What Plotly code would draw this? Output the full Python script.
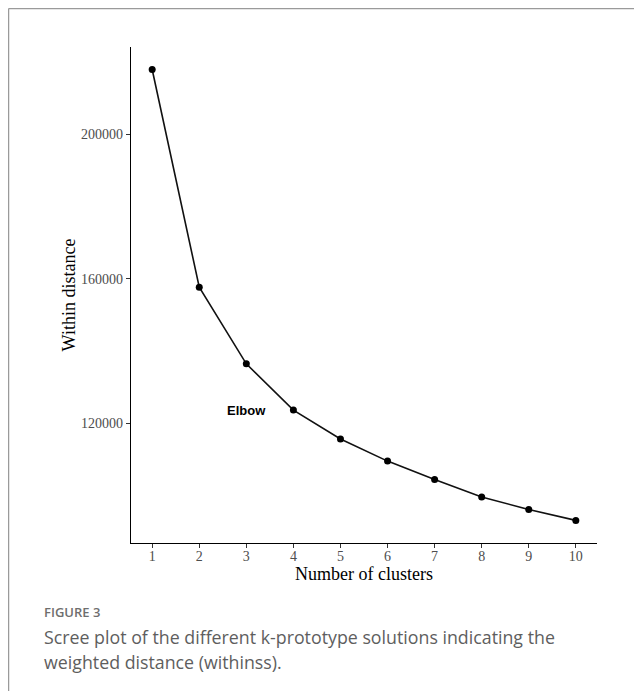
import plotly.graph_objects as go

clusters = [1, 2, 3, 4, 5, 6, 7, 8, 9, 10]
within_distance = [217900, 157700, 136500, 123700, 115700, 109600, 104500, 99700, 96200, 93200]
y_tick_vals = [120000, 160000, 200000]
y_tick_text = ["120000", "160000", "200000"]
x_tick_vals = clusters
x_tick_text = [str(c) for c in clusters]

# The page body adds an 8 px margin, so the figure is sized to fill the rest.
W, H = 634, 683
ML, MR, MT, MB = 123, 45, 39, 148
PW, PH = W - ML - MR, H - MT - MB


def xp(px):
    return (px - ML) / PW


def yp(py):
    return (H - MB - py) / PH


fig = go.Figure()
fig.add_trace(go.Scatter(
    x=clusters, y=within_distance, mode="lines+markers",
    line=dict(color="#111111", width=1.6),
    marker=dict(color="#000000", size=7),
    showlegend=False, hoverinfo="skip",
))

serif = "Liberation Serif, Times New Roman, serif"
fig.update_layout(
    width=W, height=H,
    margin=dict(l=ML, r=MR, t=MT, b=MB, pad=0),
    paper_bgcolor="white", plot_bgcolor="white",
    xaxis=dict(
        range=[0.55, 10.45], tickmode="array", tickvals=x_tick_vals, ticktext=x_tick_text,
        showgrid=False, zeroline=False, showline=True, linecolor="#000000", linewidth=1.2,
        ticks="outside", ticklen=4, tickwidth=1, tickcolor="#333333",
        tickfont=dict(family=serif, size=14, color="#4d4d4d"),
        ticklabelstandoff=-4,
        title=dict(text="Number of clusters", font=dict(family=serif, size=18, color="#000000"), standoff=2),
    ),
    yaxis=dict(
        range=[86950, 224130], tickmode="array", tickvals=y_tick_vals, ticktext=y_tick_text,
        showgrid=False, zeroline=False, showline=True, linecolor="#000000", linewidth=1.2,
        ticks="outside", ticklen=4, tickwidth=1, tickcolor="#333333",
        tickfont=dict(family=serif, size=14, color="#4d4d4d"),
        title=dict(text="Within distance", font=dict(family=serif, size=18, color="#000000"), standoff=0),
    ),
)

fig.add_annotation(
    x=3, y=123500, xref="x", yref="y", text="<b>Elbow</b>", showarrow=False,
    font=dict(family="Liberation Sans, Arial, sans-serif", size=13, color="#000000"),
    xanchor="center", yanchor="middle",
)

# Figure frame (top and left border)
frame_color = "#9a9a9a"
fig.add_shape(type="line", xref="paper", yref="paper",
              x0=xp(0.6), x1=xp(W + 2), y0=yp(0.6), y1=yp(0.6),
              line=dict(color=frame_color, width=1.3))
fig.add_shape(type="line", xref="paper", yref="paper",
              x0=xp(0.6), x1=xp(0.6), y0=yp(0.6), y1=yp(H + 2),
              line=dict(color=frame_color, width=1.3))

cap_font = "Open Sans, Lato, sans-serif"
fig.add_annotation(
    x=xp(34), y=yp(603.5), xref="paper", yref="paper", text="FIGURE 3", showarrow=False,
    font=dict(family=cap_font, size=13, color="#6e6e6e", weight=600),
    xanchor="left", yanchor="middle",
)
fig.add_annotation(
    x=xp(34), y=yp(629), xref="paper", yref="paper",
    text="Scree plot of the different k-prototype solutions indicating the", showarrow=False,
    font=dict(family=cap_font, size=17.8, color="#5e5e5e"),
    xanchor="left", yanchor="middle",
)
fig.add_annotation(
    x=xp(34), y=yp(654), xref="paper", yref="paper",
    text="weighted distance (withinss).", showarrow=False,
    font=dict(family=cap_font, size=17.8, color="#5e5e5e"),
    xanchor="left", yanchor="middle",
)

fig.write_html("out.html")
